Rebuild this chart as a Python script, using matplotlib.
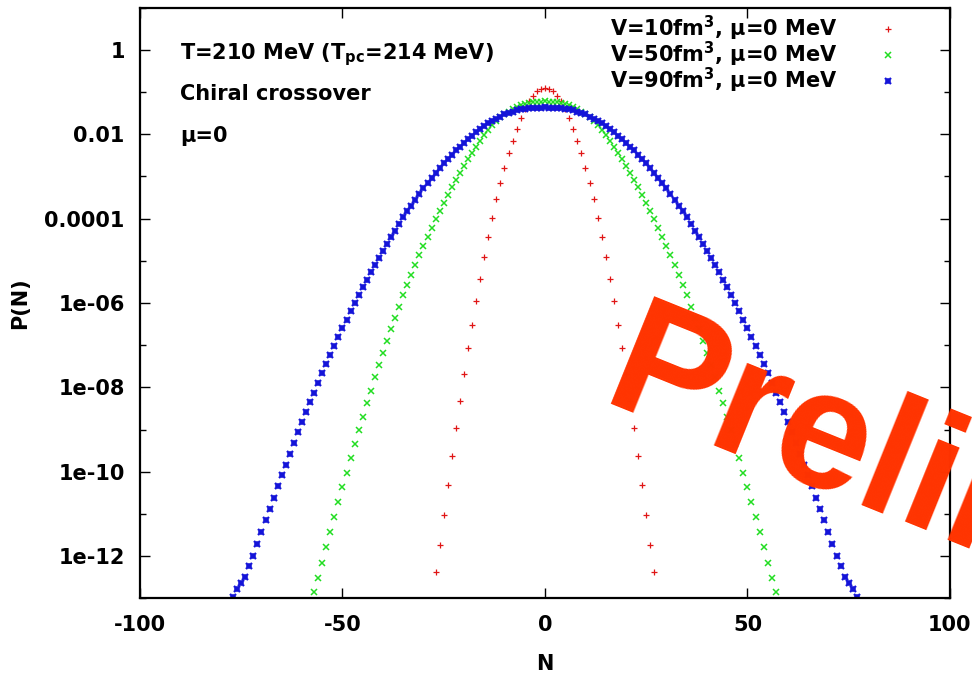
import matplotlib.pyplot as plt
import numpy as np
from matplotlib.ticker import FixedLocator, NullFormatter
from matplotlib.legend_handler import HandlerTuple

plt.rcParams['font.family'] = ['DejaVu Sans']
plt.rcParams['font.weight'] = 'bold'
plt.rcParams['axes.labelweight'] = 'bold'
plt.rcParams['mathtext.default'] = 'regular'

# log10 P(N), one value per integer N
n_v10 = np.arange(-27, 28)
logp_v10 = [-12.38, -11.74, -11.03, -10.32, -9.63, -8.96, -8.32, -7.68, -7.07, -6.52,
            -5.95, -5.43, -4.91, -4.43, -3.98, -3.53, -3.15, -2.79, -2.44, -2.16,
            -1.87, -1.61, -1.39, -1.22, -1.08, -0.98, -0.92, -0.90, -0.92, -0.98,
            -1.08, -1.22, -1.39, -1.61, -1.87, -2.16, -2.44, -2.79, -3.15, -3.53,
            -3.98, -4.43, -4.91, -5.43, -5.95, -6.52, -7.07, -7.68, -8.32, -8.96,
            -9.63, -10.32, -11.03, -11.74, -12.38]

n_v50 = np.arange(-57, 58)
logp_v50 = [-12.85, -12.53, -12.16, -11.79, -11.44, -11.07, -10.71, -10.37, -10.02, -9.68,
            -9.34, -9.01, -8.70, -8.38, -8.08, -7.76, -7.47, -7.18, -6.89, -6.62,
            -6.36, -6.09, -5.82, -5.58, -5.34, -5.10, -4.86, -4.65, -4.43, -4.21,
            -4.01, -3.81, -3.62, -3.44, -3.26, -3.08, -2.91, -2.74, -2.59, -2.44,
            -2.29, -2.15, -2.02, -1.89, -1.78, -1.68, -1.60, -1.52, -1.46, -1.40,
            -1.35, -1.31, -1.28, -1.26, -1.24, -1.23, -1.23, -1.22, -1.23, -1.23,
            -1.24, -1.26, -1.28, -1.31, -1.35, -1.40, -1.46, -1.52, -1.60, -1.68,
            -1.78, -1.89, -2.02, -2.15, -2.29, -2.44, -2.59, -2.74, -2.91, -3.08,
            -3.26, -3.44, -3.62, -3.81, -4.01, -4.21, -4.43, -4.65, -4.86, -5.10,
            -5.34, -5.58, -5.82, -6.09, -6.36, -6.62, -6.89, -7.18, -7.47, -7.76,
            -8.08, -8.38, -8.70, -9.01, -9.34, -9.68, -10.02, -10.37, -10.71, -11.07,
            -11.44, -11.79, -12.16, -12.53, -12.85]

n_v90 = np.arange(-77, 78)
logp_v90 = [-12.96, -12.78, -12.63, -12.49, -12.24, -12.01, -11.72, -11.44, -11.15, -10.88,
            -10.62, -10.35, -10.09, -9.83, -9.57, -9.32, -9.07, -8.83, -8.59, -8.35,
            -8.13, -7.90, -7.67, -7.45, -7.23, -7.02, -6.81, -6.60, -6.40, -6.20,
            -6.00, -5.81, -5.63, -5.45, -5.27, -5.10, -4.93, -4.76, -4.60, -4.44,
            -4.29, -4.13, -3.97, -3.83, -3.69, -3.55, -3.42, -3.28, -3.16, -3.04,
            -2.92, -2.80, -2.69, -2.59, -2.48, -2.38, -2.29, -2.20, -2.11, -2.03,
            -1.95, -1.88, -1.81, -1.74, -1.68, -1.63, -1.58, -1.53, -1.49, -1.46,
            -1.43, -1.41, -1.39, -1.38, -1.37, -1.37, -1.37, -1.36, -1.37, -1.37,
            -1.37, -1.38, -1.39, -1.41, -1.43, -1.46, -1.49, -1.53, -1.58, -1.63,
            -1.68, -1.74, -1.81, -1.88, -1.95, -2.03, -2.11, -2.20, -2.29, -2.38,
            -2.48, -2.59, -2.69, -2.80, -2.92, -3.04, -3.16, -3.28, -3.42, -3.55,
            -3.69, -3.83, -3.97, -4.13, -4.29, -4.44, -4.60, -4.76, -4.93, -5.10,
            -5.27, -5.45, -5.63, -5.81, -6.00, -6.20, -6.40, -6.60, -6.81, -7.02,
            -7.23, -7.45, -7.67, -7.90, -8.13, -8.35, -8.59, -8.83, -9.07, -9.32,
            -9.57, -9.83, -10.09, -10.35, -10.62, -10.88, -11.15, -11.44, -11.72, -12.01,
            -12.24, -12.49, -12.63, -12.78, -12.96]

labels = ['V=10fm$^3$, μ=0 MeV', 'V=50fm$^3$, μ=0 MeV', 'V=90fm$^3$, μ=0 MeV']
xticks = [-100, -50, 0, 50, 100]
yticks = [1, 1e-2, 1e-4, 1e-6, 1e-8, 1e-10, 1e-12]
ytick_labels = ['1', '0.01', '0.0001', '1e-06', '1e-08', '1e-10', '1e-12']
yminor = [10, 1e-1, 1e-3, 1e-5, 1e-7, 1e-9, 1e-11, 1e-13]

fig = plt.figure(figsize=(9.72, 6.78), dpi=100)
ax = fig.add_axes([0.144, 0.1177, 0.8333, 0.8708])

h1, = ax.plot(n_v10, 10.0 ** np.array(logp_v10), ls='none', marker='+', ms=4.5, mew=0.9,
              color='#e01515')
h2, = ax.plot(n_v50, 10.0 ** np.array(logp_v50), ls='none', marker='x', ms=4, mew=1.1,
              color='#22dd22')
# gnuplot point type 3: x and + drawn on top of each other
h3a, = ax.plot(n_v90, 10.0 ** np.array(logp_v90), ls='none', marker='x', ms=4.5, mew=1.6,
               color='#1414d8')
h3b, = ax.plot(n_v90, 10.0 ** np.array(logp_v90), ls='none', marker='+', ms=4, mew=1.1,
               color='#1414d8')

ax.set_yscale('log')
ax.set_xlim(-100, 100)
ax.set_ylim(1e-13, 10)
ax.set_xticks(xticks)
ax.set_xticklabels([str(t) for t in xticks])
ax.set_yticks(yticks)
ax.set_yticklabels(ytick_labels)
ax.yaxis.set_minor_locator(FixedLocator(yminor))
ax.yaxis.set_minor_formatter(NullFormatter())
ax.tick_params(which='both', direction='in', top=True, right=True, labelsize=15, width=1)
ax.tick_params(axis='y', pad=11)
ax.tick_params(axis='x', pad=12)
ax.tick_params(which='major', length=7)
ax.tick_params(which='minor', length=4)
for s in ax.spines.values():
    s.set_linewidth(1.6)

ax.set_xlabel('N', fontsize=15, labelpad=14)
ax.set_ylabel('P(N)', fontsize=15, labelpad=10)

ax.text(-90, 1, 'T=210 MeV (T$_{pc}$=214 MeV)', fontsize=15, va='center_baseline')
ax.text(-90, 0.1, 'Chiral crossover', fontsize=15, va='center_baseline')
ax.text(-90, 0.01, 'μ=0', fontsize=15, va='center_baseline')

ax.legend([h1, h2, (h3a, h3b)], labels, handler_map={tuple: HandlerTuple(ndivide=1)},
          loc='upper right', bbox_to_anchor=(0.957, 0.99), markerfirst=False, frameon=False,
          fontsize=15, handlelength=2.6, handletextpad=1.15, labelspacing=-0.14,
          borderpad=0, borderaxespad=0)

fig.text(0.616, 0.405, 'Preliminary', fontsize=121, color='#ff3300', fontweight='bold',
         family='Liberation Sans', rotation=-22, rotation_mode='anchor', ha='left',
         va='baseline', zorder=10)

fig.savefig('out.png', dpi=100)
